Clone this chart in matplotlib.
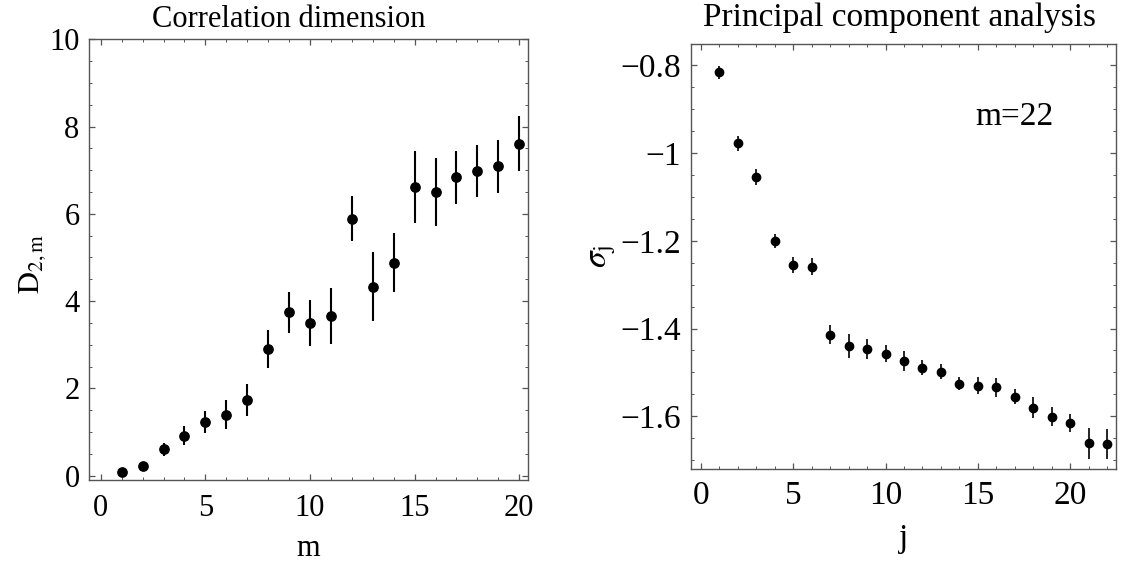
import matplotlib
matplotlib.use("Agg")
import matplotlib.pyplot as plt
from matplotlib.ticker import MultipleLocator, FuncFormatter

plt.rcParams['font.family'] = ['Liberation Serif', 'DejaVu Serif']
plt.rcParams['mathtext.fontset'] = 'stix'

# Correlation dimension data
m_vals = list(range(1, 21))
d2_vals = [0.09, 0.23, 0.60, 0.92, 1.23, 1.40, 1.74, 2.90, 3.74, 3.49,
           3.66, 5.89, 4.33, 4.88, 6.62, 6.50, 6.84, 6.98, 7.09, 7.61]
d2_err = [0.0, 0.0, 0.15, 0.21, 0.26, 0.34, 0.37, 0.44, 0.48, 0.53,
          0.65, 0.51, 0.79, 0.67, 0.82, 0.78, 0.61, 0.60, 0.61, 0.63]

# PCA data
j_vals = list(range(1, 23))
sigma_vals = [-0.816, -0.977, -1.055, -1.200, -1.255, -1.259, -1.414, -1.440,
              -1.447, -1.457, -1.474, -1.489, -1.498, -1.526, -1.530, -1.534,
              -1.555, -1.581, -1.601, -1.615, -1.662, -1.663]
sigma_err = [0.015, 0.017, 0.018, 0.016, 0.019, 0.019, 0.021, 0.027,
             0.023, 0.019, 0.022, 0.017, 0.018, 0.015, 0.019, 0.021,
             0.017, 0.024, 0.021, 0.021, 0.036, 0.035]

fig = plt.figure(figsize=(11.22, 5.67), dpi=100)
ax1 = fig.add_axes([0.0796, 0.1534, 0.3910, 0.7773])
ax2 = fig.add_axes([0.6156, 0.1723, 0.3791, 0.7501])

frame_col = '#555555'

def style(ax, fs, xpad, ypad):
    for s in ax.spines.values():
        s.set_color(frame_col)
        s.set_linewidth(1.0)
    ax.tick_params(which='both', direction='in', top=True, right=True,
                   color=frame_col, labelsize=fs)
    ax.tick_params(axis='x', which='major', pad=xpad)
    ax.tick_params(axis='y', which='major', pad=ypad)
    ax.tick_params(which='major', length=4.5, width=0.9)
    ax.tick_params(which='minor', length=2.5, width=0.7)

# Left panel
FS1 = 22
ax1.errorbar(m_vals, d2_vals, yerr=d2_err, fmt='o', color='black',
             markersize=6.7, elinewidth=1.5, capsize=0)
ax1.set_xlim(-0.55, 20.42)
ax1.set_ylim(-0.1, 10.0)
ax1.xaxis.set_major_locator(MultipleLocator(5))
ax1.xaxis.set_minor_locator(MultipleLocator(1))
ax1.yaxis.set_major_locator(MultipleLocator(2))
ax1.yaxis.set_minor_locator(MultipleLocator(0.5))
style(ax1, FS1, 10, 7)
ax1.set_title('Correlation dimension', fontsize=FS1, pad=8.5, x=0.455)
ax1.set_xlabel('m', fontsize=FS1, labelpad=8)
ax1.set_ylabel(r'$\mathrm{D}_{\mathrm{2,m}}$', fontsize=FS1)
ax1.yaxis.set_label_coords(-0.094, 0.49)

# Right panel
FS2 = 24
ax2.errorbar(j_vals, sigma_vals, yerr=sigma_err, fmt='o', color='black',
             markersize=6, elinewidth=1.2, capsize=0)
ax2.set_xlim(-0.55, 22.48)
ax2.set_ylim(-1.721, -0.751)
ax2.xaxis.set_major_locator(MultipleLocator(5))
ax2.xaxis.set_minor_locator(MultipleLocator(1))
ax2.yaxis.set_major_locator(MultipleLocator(0.2))
ax2.yaxis.set_minor_locator(MultipleLocator(0.05))
style(ax2, FS2, 8, 7)
ax2.yaxis.set_major_formatter(FuncFormatter(
    lambda v, p: ('\u2212' if v < 0 else '') + ('%g' % abs(round(v, 2)))))
ax2.set_title('Principal component analysis', fontsize=FS2, pad=13, x=0.491)
ax2.set_xlabel('j', fontsize=FS2, labelpad=9)
ax2.set_ylabel(r'$\sigma_{\mathrm{j}}$', fontsize=FS2)
ax2.yaxis.set_label_coords(-0.172, 0.5)
ax2.text(17.0, -0.918, 'm=22', fontsize=FS2, ha='center', va='center')

fig.savefig('out.png', dpi=100)
